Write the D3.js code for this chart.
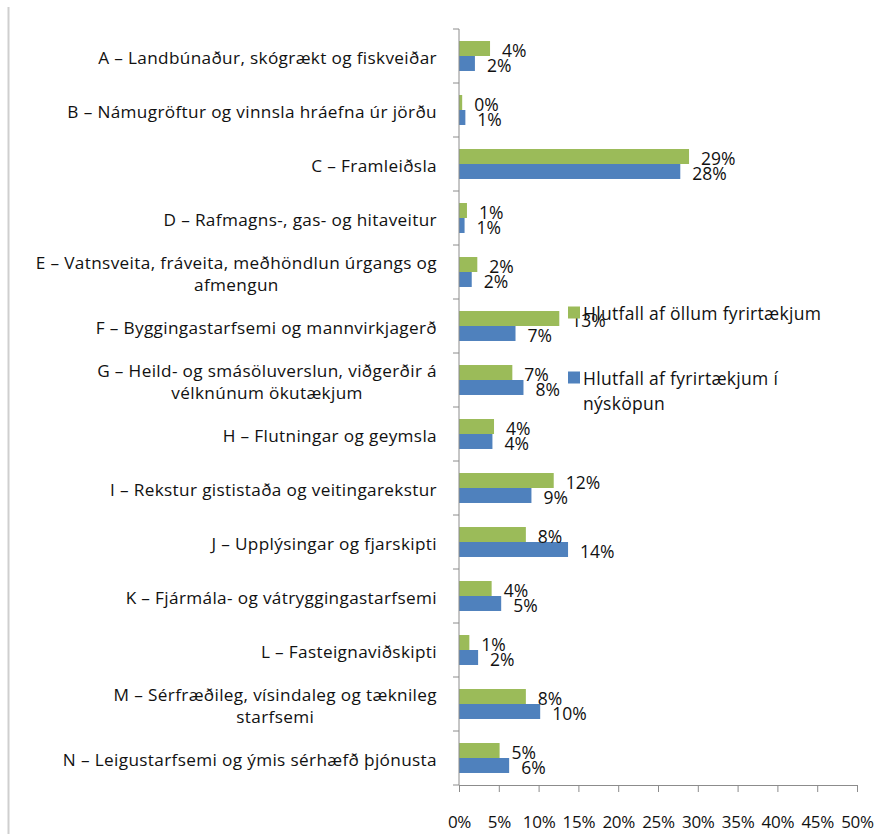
<!DOCTYPE html>
<html>
<head>
<meta charset="utf-8">
<script src="https://cdn.jsdelivr.net/npm/d3@7"></script>
<style>
  body { margin: 0; background: #fff; }
  text { font-family: "Open Sans", sans-serif; fill: #111; }
</style>
</head>
<body>
<svg id="chart" width="875" height="834"></svg>
<script>
// categories (line breaks as in the original)
const categories = [
  "A – Landbúnaður, skógrækt og fiskveiðar",
  "B – Námugröftur og vinnsla hráefna úr jörðu",
  "C – Framleiðsla",
  "D – Rafmagns-, gas- og hitaveitur",
  "E – Vatnsveita, fráveita, meðhöndlun úrgangs og\nafmengun",
  "F – Byggingastarfsemi og mannvirkjagerð",
  "G – Heild- og smásöluverslun, viðgerðir á\nvélknúnum ökutækjum",
  "H – Flutningar og geymsla",
  "I – Rekstur gististaða og veitingarekstur",
  "J – Upplýsingar og fjarskipti",
  "K – Fjármála- og vátryggingastarfsemi",
  "L – Fasteignaviðskipti",
  "M – Sérfræðileg, vísindaleg og tæknileg\nstarfsemi",
  "N – Leigustarfsemi og ýmis sérhæfð þjónusta"
];
const seriesNames = ["Hlutfall af öllum fyrirtækjum", "Hlutfall af fyrirtækjum í\nnýsköpun"];
const seriesColors = ["#9bbb59", "#4f81bd"];
// percent values
const allFirms   = [3.9, 0.4, 28.9, 1.0, 2.3, 12.6, 6.7, 4.4, 11.9, 8.4, 4.1, 1.3, 8.4, 5.1];
const innovFirms = [2.0, 0.8, 27.8, 0.7, 1.6, 7.1, 8.1, 4.2, 9.1, 13.7, 5.3, 2.4, 10.2, 6.3];
const xTicks = [0, 5, 10, 15, 20, 25, 30, 35, 40, 45, 50];

const series = [allFirms, innovFirms];
const svg = d3.select("#chart");

// grey frame line on the left
svg.append("line")
  .attr("x1", 8.5).attr("x2", 8.5).attr("y1", 7).attr("y2", 834)
  .attr("stroke", "#cfcfcf").attr("stroke-width", 2);

const x = d3.scaleLinear().domain([0, 50]).range([459, 857]);
const y = d3.scaleBand().domain(categories).range([29, 785]);
const pairH = y.bandwidth() * 0.555;
const yIn = d3.scaleBand().domain([0, 1]).range([0, pairH]);
const pairOff = (y.bandwidth() - pairH) / 2;
const fmt = d3.format(".0f");

// bars
const groups = svg.append("g").selectAll("g")
  .data(categories)
  .join("g")
  .attr("transform", d => `translate(0,${y(d) + pairOff})`);

groups.selectAll("rect")
  .data((d, i) => series.map((s, k) => ({k, v: s[i]})))
  .join("rect")
  .attr("x", x(0))
  .attr("y", d => yIn(d.k))
  .attr("width", d => x(d.v) - x(0))
  .attr("height", yIn.bandwidth())
  .attr("fill", d => seriesColors[d.k]);

groups.selectAll("text.val")
  .data((d, i) => series.map((s, k) => ({k, v: s[i]})))
  .join("text")
  .attr("class", "val")
  .attr("x", d => x(d.v) + 12)
  .attr("y", d => yIn(d.k) + yIn.bandwidth() / 2 + 2.5)
  .attr("dy", "0.36em")
  .attr("font-size", 17.5)
  .text(d => fmt(d.v) + "%");

// x axis
const xAxis = svg.append("g")
  .attr("transform", "translate(0,785)")
  .call(d3.axisBottom(x).tickValues(xTicks).tickFormat(d => d + "%").tickSize(7).tickSizeOuter(0));
xAxis.select(".domain").attr("stroke", "#8c8c8c");
xAxis.selectAll(".tick line").attr("stroke", "#8c8c8c");
xAxis.selectAll(".tick text")
  .attr("y", 37).attr("dy", "0.36em")
  .attr("font-size", 17).attr("letter-spacing", -0.3)
  .attr("font-family", null).attr("fill", null);

// y axis with ticks between categories
const yAx = svg.append("g");
yAx.append("line")
  .attr("x1", x(0)).attr("x2", x(0))
  .attr("y1", y.range()[0]).attr("y2", y.range()[1])
  .attr("stroke", "#8c8c8c");
yAx.selectAll("line.tk")
  .data(categories.map(c => y(c)).concat([y.range()[1]]))
  .join("line")
  .attr("class", "tk")
  .attr("x1", x(0) - 6).attr("x2", x(0))
  .attr("y1", d => d).attr("y2", d => d)
  .attr("stroke", "#8c8c8c");

// category labels
const labelRight = 437;
const lineH = 22;
svg.append("g").selectAll("text")
  .data(categories)
  .join("text")
  .attr("font-size", 17.2)
  .attr("letter-spacing", 0.35)
  .each(function(d) {
    const lines = d.split("\n");
    const t = d3.select(this);
    const cy = y(d) + y.bandwidth() / 2 + 1.5;
    lines.forEach((ln, i) => {
      t.append("tspan")
        .attr("y", cy + (i - (lines.length - 1) / 2) * lineH)
        .attr("dy", "0.36em")
        .text(ln);
    });
    if (lines.length === 1) {
      t.attr("text-anchor", "end").selectAll("tspan").attr("x", labelRight);
    } else {
      const w = d3.max(t.selectAll("tspan").nodes(), n => n.getComputedTextLength());
      t.attr("text-anchor", "middle").selectAll("tspan").attr("x", labelRight - w / 2);
    }
  });

// legend
const legendY = [312.5, 377.5];
const leg = svg.append("g").selectAll("g")
  .data(seriesNames)
  .join("g")
  .attr("transform", (d, i) => `translate(568,${legendY[i]})`);
leg.append("rect")
  .attr("x", 0).attr("y", -6).attr("width", 12).attr("height", 12)
  .attr("fill", (d, i) => seriesColors[i]);
leg.append("text")
  .attr("font-size", 17.5)
  .attr("letter-spacing", 0.3)
  .each(function(d) {
    const t = d3.select(this);
    d.split("\n").forEach((ln, i) => {
      t.append("tspan").attr("x", 15).attr("y", i * 25 + 1.5).attr("dy", "0.36em").text(ln);
    });
  });
</script>
</body>
</html>
